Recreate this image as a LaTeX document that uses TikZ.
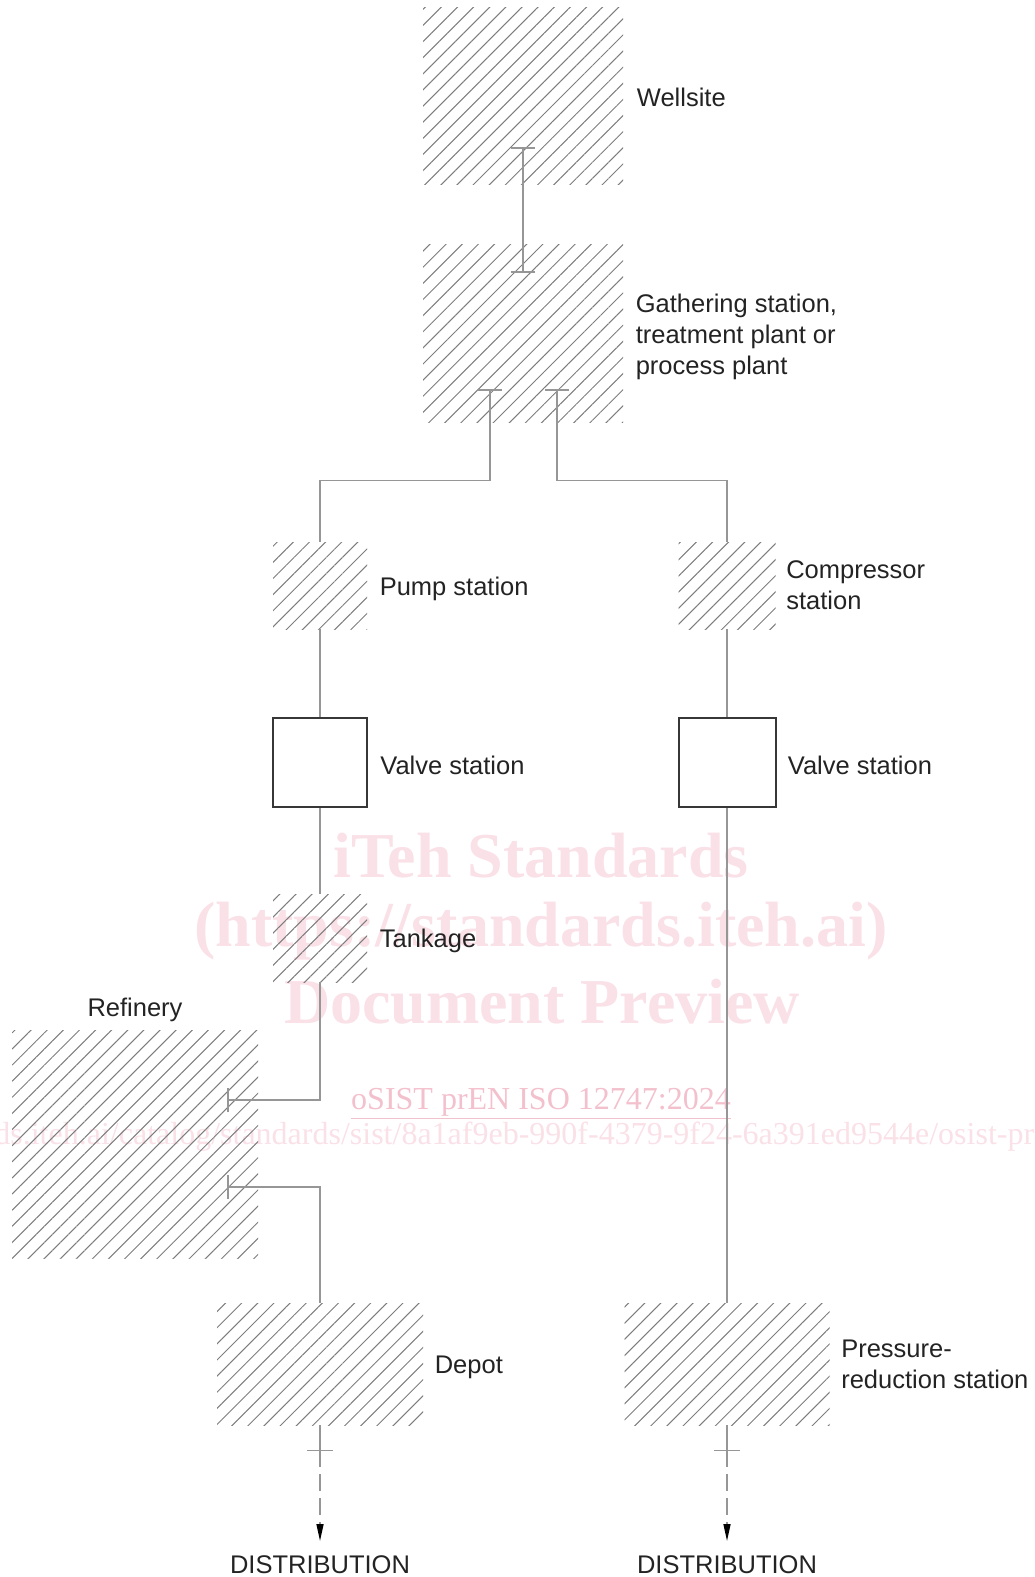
\documentclass[tikz,border=0pt]{standalone}
\usepackage{fontspec}
\setmainfont{Liberation Sans}
\newfontfamily\wmfont{Liberation Serif}
\usetikzlibrary{positioning,arrows.meta,patterns.meta,calc}
\definecolor{PipeGray}{RGB}{150,150,150}
\definecolor{HatchGray}{RGB}{125,125,125}
\definecolor{ValveGray}{RGB}{55,55,55}
\definecolor{TextGray}{RGB}{35,35,35}
\definecolor{WaterPink}{RGB}{250,224,231}
\definecolor{WaterRose}{RGB}{243,192,205}
\tikzset{stub/.tip={Bar[width=12pt]}}

\begin{document}
\begin{tikzpicture}[x=0.5pt, y=-0.5pt,
    plant/.style={pattern={Lines[angle=45,distance=5.7pt,line width=0.5pt]},
                  pattern color=HatchGray, inner sep=0pt},
    valve/.style={draw=ValveGray, line width=1pt, fill=white,
                  minimum width=47pt, minimum height=44.5pt, inner sep=0pt},
    pipe/.style={draw=PipeGray, line width=0.75pt},
    lbl/.style={font=\fontsize{12.75pt}{15.5pt}\selectfont, text=TextGray,
                align=left, inner sep=0pt, yshift=-1.5pt},
    wm/.style={text=WaterPink, font=\wmfont\bfseries\fontsize{32pt}{36pt}\selectfont, inner sep=0pt},
    wmsmall/.style={text=WaterRose, font=\wmfont\fontsize{16pt}{18pt}\selectfont, inner sep=0pt},
]
\useasboundingbox (0,0) rectangle (1034,1577);

% watermark
\node[wm] (wm1) at (541,856) {iTeh Standards};
\node[wm] (wm2) at (541,931) {(https://standards.iteh.ai)};
\node[wm] (wm3) at (542,1002) {Document Preview};
\node[wmsmall] (wm4) at (541,1104) {\underline{oSIST prEN ISO 12747:2024}};
\node[wmsmall, text=WaterPink, anchor=west] (wm5) at (-6,1137) {ds.iteh.ai/catalog/standards/sist/8a1af9eb-990f-4379-9f24-6a391ed9544e/osist-pr};

% stations
\node[plant, minimum width=100pt, minimum height=88.5pt] (well) at (523,96.5) {};
\node[plant, minimum width=100pt, minimum height=89pt] (gather) at (523,334) {};
\node[plant, minimum width=47pt, minimum height=43.5pt] (pump) at (320,585.5) {};
\node[plant, minimum width=48.5pt, minimum height=43.5pt] (comp) at (727,585.5) {};
\node[valve] (lvalve) at (320,762.5) {};
\node[valve, minimum width=48.5pt] (rvalve) at (727,762.5) {};
\node[plant, minimum width=47pt, minimum height=44pt] (tank) at (320,938) {};
\node[plant, minimum width=123pt, minimum height=114pt] (refinery) at (135,1144) {};
\node[plant, minimum width=103pt, minimum height=61pt] (depot) at (320,1364) {};
\node[plant, minimum width=102.5pt, minimum height=61pt] (press) at (727,1364) {};

% labels
\node[lbl, right=6.5pt of well, yshift=1pt] (lwell) {Wellsite};
\node[lbl, right=6pt of gather] (lgather) {Gathering station,\\treatment plant or\\process plant};
\node[lbl, right=6pt of pump] (lpump) {Pump station};
\node[lbl, right=5pt of comp, yshift=1.5pt] (lcomp) {Compressor\\station};
\node[lbl, right=6pt of lvalve] (llvalve) {Valve station};
\node[lbl, right=5.5pt of rvalve] (lrvalve) {Valve station};
\node[lbl, right=6pt of tank] (ltank) {Tankage};
\node[lbl, above=5pt of refinery] (lrefinery) {Refinery};
\node[lbl, right=5.5pt of depot] (ldepot) {Depot};
\node[lbl, right=5.5pt of press, yshift=1.5pt] (lpress) {Pressure-\\reduction station};
\node[lbl, anchor=north] (ldist) at (320,1552) {DISTRIBUTION};
\node[lbl, anchor=north] (rdist) at (727,1552) {DISTRIBUTION};

% pipelines
\draw[pipe, stub-stub] ([yshift=19pt]well.south) -- ([yshift=-14pt]gather.north);
\draw[pipe, stub-] ([xshift=-16.5pt,yshift=17pt]gather.south) -- ++(0,91) -| (pump.north);
\draw[pipe, stub-] ([xshift=17pt,yshift=17pt]gather.south) -- ++(0,91) -| (comp.north);
\draw[pipe] (pump) -- (lvalve);
\draw[pipe] (lvalve) -- (tank);
\draw[pipe] (comp) -- (rvalve);
\draw[pipe] (rvalve) -- (press);
\draw[pipe, -stub] (tank.south) |- ([xshift=-15.5pt,yshift=22pt]refinery.east);
\draw[pipe, stub-] ([xshift=-15.5pt,yshift=-21.5pt]refinery.east) -| (depot.north);

% distribution
\coordinate (ltick) at ($(depot.south)+(0,25)$);
\coordinate (rtick) at ($(press.south)+(0,25)$);
\foreach \s/\d in {ltick/ldist, rtick/rdist} {
  \draw[pipe] ([xshift=-6.5pt]\s) -- ([xshift=6.5pt]\s);
  \draw[pipe, dash pattern=on 8.5pt off 3.5pt,
        -{Triangle[length=8.5pt,width=3.5pt,color=black]}] (\s) -- ([yshift=7pt]\d.north);
}
\draw[pipe] (depot) -- (ltick);
\draw[pipe] (press) -- (rtick);
\end{tikzpicture}
\end{document}
